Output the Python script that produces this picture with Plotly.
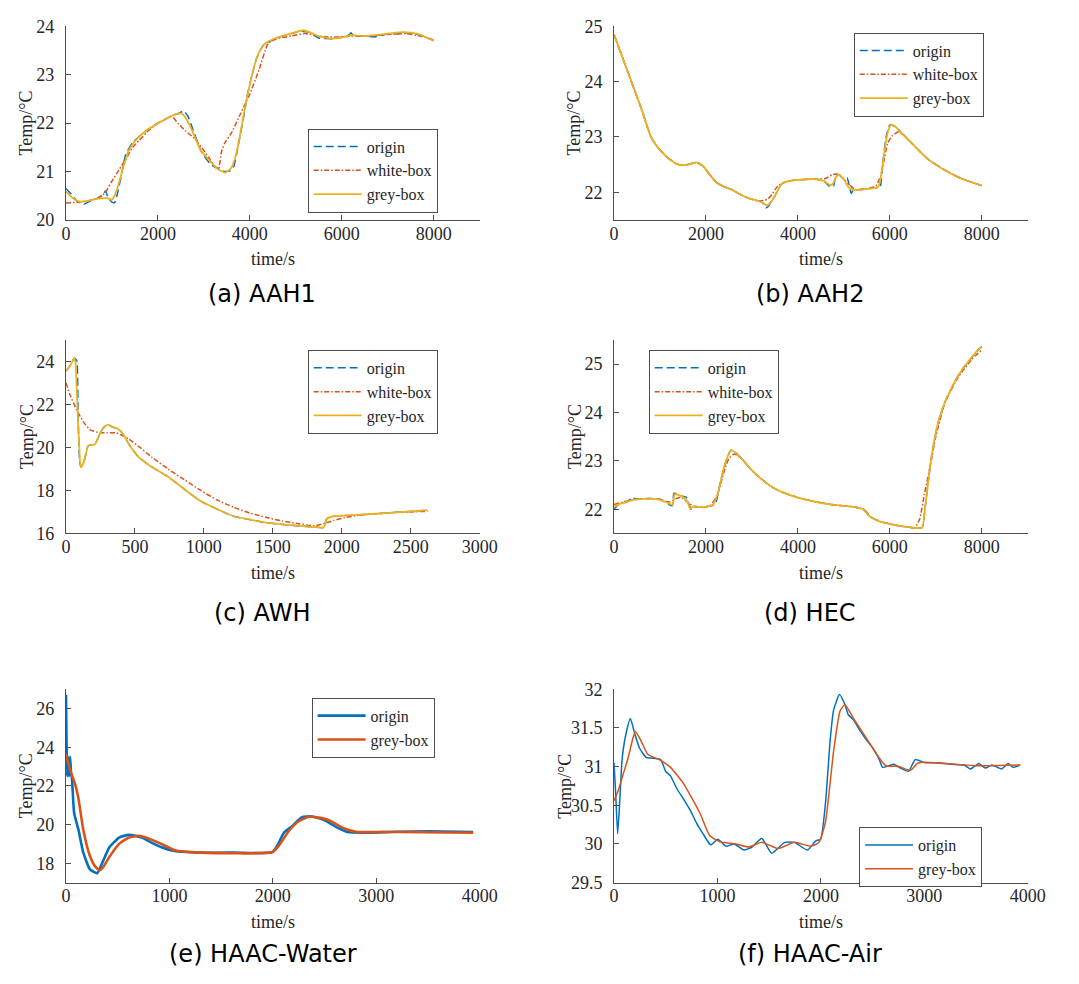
import plotly.graph_objects as go

# ---------------- data: (a) AAH1 ----------------
aah1_grey_t = [0, 150, 300, 500, 700, 900, 1000, 1100, 1250, 1370, 1510, 1750, 2010, 2200, 2370, 2500,
               2600, 2720, 2930, 3150, 3300, 3470, 3600, 3700, 3790, 3880, 3965, 4050, 4140, 4250, 4355,
               4570, 4925, 5170, 5350, 5490, 5780, 6000, 6200, 6500, 6840, 7100, 7340, 7630, 7850, 8000]
aah1_grey = [20.59, 20.45, 20.38, 20.40, 20.44, 20.45, 20.42, 20.60, 21.10, 21.44, 21.64, 21.85, 22.00,
             22.10, 22.18, 22.20, 22.12, 21.90, 21.44, 21.20, 21.05, 20.98, 21.08, 21.35, 21.77, 22.25,
             22.65, 23.00, 23.32, 23.55, 23.66, 23.76, 23.86, 23.92, 23.86, 23.80, 23.75, 23.77, 23.82,
             23.80, 23.83, 23.86, 23.88, 23.85, 23.77, 23.70]
aah1_origin_t = [0, 100, 250, 400, 550, 700, 800, 860, 920, 1000, 1060, 1120, 1200, 1300, 1450, 1750,
                 2000, 2300, 2450, 2560, 2650, 2750, 2950, 3150, 3330, 3450, 3580, 3650, 3720, 3800, 3880,
                 3950, 4050, 4150, 4300, 4450, 4600, 4900, 5100, 5300, 5500, 5650, 5800, 6000, 6150, 6200,
                 6260, 6500, 6700, 6900, 7050, 7200, 7300, 7500, 7700, 8000]
aah1_origin = [20.65, 20.55, 20.38, 20.33, 20.40, 20.45, 20.52, 20.60, 20.45, 20.37, 20.36, 20.55, 20.90,
               21.35, 21.60, 21.85, 22.00, 22.15, 22.20, 22.25, 22.15, 21.90, 21.40, 21.15, 21.05, 21.00,
               21.02, 21.10, 21.40, 21.80, 22.20, 22.60, 23.00, 23.35, 23.62, 23.70, 23.77, 23.85, 23.90,
               23.87, 23.76, 23.75, 23.74, 23.78, 23.82, 23.87, 23.80, 23.80, 23.78, 23.82, 23.86, 23.84,
               23.87, 23.86, 23.82, 23.71]
aah1_white_t = [0, 300, 600, 750, 850, 1000, 1150, 1300, 1450, 1600, 1800, 2000, 2150, 2300, 2450, 2600,
                2800, 2950, 3100, 3250, 3320, 3380, 3450, 3600, 3800, 4000, 4200, 4400, 4600, 4900, 5200,
                5500, 5700, 6000, 6200, 6600, 7000, 7400, 7700, 8000]
aah1_white = [20.35, 20.37, 20.42, 20.48, 20.56, 20.80, 21.03, 21.25, 21.50, 21.65, 21.85, 22.00, 22.07,
              22.14, 21.98, 21.84, 21.68, 21.50, 21.30, 21.10, 21.05, 21.40, 21.58, 21.80, 22.20, 22.60,
              23.10, 23.65, 23.75, 23.80, 23.85, 23.80, 23.78, 23.78, 23.80, 23.80, 23.83, 23.85, 23.80,
              23.72]

# ---------------- data: (b) AAH2 ----------------
aah2_grey_t = [0, 200, 400, 600, 803, 945, 1158, 1371, 1513, 1650, 1798, 1940, 2080, 2224, 2400, 2580,
               2750, 2934, 3220, 3325, 3420, 3503, 3645, 3800, 3929, 4355, 4570, 4700, 4760, 4820, 4890,
               4995, 5100, 5208, 5490, 5740, 5800, 5848, 5920, 5980, 6025, 6131, 6300, 6487, 6700, 6842,
               7197, 7553, 8000]
aah2_grey = [24.85, 24.40, 23.95, 23.50, 23.00, 22.82, 22.63, 22.51, 22.49, 22.51, 22.54, 22.47, 22.32,
             22.18, 22.10, 22.04, 21.96, 21.89, 21.82, 21.76, 21.83, 21.94, 22.15, 22.20, 22.22, 22.24,
             22.20, 22.13, 22.15, 22.26, 22.32, 22.24, 22.09, 22.04, 22.06, 22.09, 22.25, 22.53, 22.94,
             23.15, 23.22, 23.18, 23.03, 22.88, 22.70, 22.59, 22.40, 22.25, 22.12]
aah2_origin_t = [0, 200, 400, 600, 803, 945, 1158, 1371, 1513, 1650, 1798, 1940, 2080, 2224, 2400, 2580,
                 2750, 2934, 3220, 3300, 3350, 3420, 3503, 3645, 3800, 3929, 4355, 4570, 4700, 4780, 4820,
                 4890, 4995, 5070, 5160, 5200, 5490, 5740, 5790, 5850, 5920, 6000, 6131, 6300, 6487, 6700,
                 6842, 7197, 7553, 8000]
aah2_origin = [24.85, 24.40, 23.95, 23.50, 23.00, 22.82, 22.63, 22.51, 22.49, 22.51, 22.54, 22.47, 22.32,
               22.18, 22.10, 22.04, 21.96, 21.89, 21.82, 21.72, 21.74, 21.83, 21.94, 22.15, 22.20, 22.22,
               22.24, 22.20, 22.10, 22.12, 22.30, 22.32, 22.24, 22.26, 21.98, 22.03, 22.06, 22.09, 22.10,
               22.55, 23.00, 23.22, 23.18, 23.03, 22.88, 22.70, 22.59, 22.40, 22.25, 22.12]
aah2_white_t = [0, 200, 400, 600, 803, 945, 1158, 1371, 1513, 1650, 1798, 1940, 2080, 2224, 2400, 2580,
                2750, 2934, 3100, 3250, 3350, 3450, 3550, 3700, 3929, 4355, 4600, 4750, 4850, 4950, 5100,
                5250, 5500, 5700, 5800, 5880, 5950, 6050, 6200, 6300, 6487, 6700, 6842, 7197, 7553, 8000]
aah2_white = [24.85, 24.40, 23.95, 23.50, 23.00, 22.82, 22.63, 22.51, 22.49, 22.51, 22.54, 22.47, 22.32,
              22.18, 22.10, 22.04, 21.96, 21.89, 21.85, 21.85, 21.88, 21.98, 22.10, 22.18, 22.22, 22.24,
              22.25, 22.32, 22.33, 22.28, 22.15, 22.05, 22.06, 22.12, 22.30, 22.60, 22.88, 23.02, 23.10,
              23.04, 22.88, 22.70, 22.59, 22.40, 22.25, 22.12]

# ---------------- data: (c) AWH ----------------
awh_grey_t = [0, 31, 54, 62, 70, 78, 90, 97, 106, 125, 145, 161, 184, 208, 230, 244, 270, 303, 335, 362,
              397, 430, 457, 528, 620, 740, 860, 977, 1100, 1214, 1330, 1450, 1570, 1687, 1800, 1864,
              1875, 1888, 1910, 1947, 2050, 2160, 2280, 2397, 2500, 2621]
awh_grey = [23.55, 23.80, 24.10, 24.14, 23.90, 22.70, 20.80, 20.00, 19.08, 19.24, 19.70, 20.08, 20.12,
            20.14, 20.40, 20.60, 20.90, 21.06, 20.95, 20.90, 20.76, 20.45, 20.14, 19.55, 19.10, 18.64,
            18.05, 17.50, 17.12, 16.80, 16.65, 16.50, 16.42, 16.35, 16.30, 16.27, 16.35, 16.65, 16.75,
            16.80, 16.84, 16.88, 16.93, 16.98, 17.02, 17.08]
awh_origin_t = [0, 31, 54, 62, 72, 80, 88, 100, 110, 125, 145, 161, 184, 208, 230, 244, 270, 303, 335,
                362, 397, 430, 457, 528, 620, 740, 860, 977, 1100, 1214, 1330, 1450, 1570, 1687, 1800,
                1864, 1875, 1888, 1910, 1947, 2050, 2160, 2280, 2397, 2500, 2621]
awh_origin = [23.55, 23.80, 24.10, 24.14, 24.10, 24.00, 21.50, 19.30, 19.10, 19.24, 19.70, 20.08, 20.12,
              20.14, 20.40, 20.60, 20.90, 21.06, 20.95, 20.90, 20.76, 20.45, 20.14, 19.55, 19.10, 18.64,
              18.05, 17.50, 17.12, 16.80, 16.65, 16.50, 16.42, 16.35, 16.30, 16.27, 16.35, 16.65, 16.75,
              16.80, 16.84, 16.88, 16.93, 16.98, 17.02, 17.08]
awh_white_t = [0, 31, 78, 125, 173, 244, 300, 362, 410, 457, 540, 622, 740, 859, 977, 1095, 1214, 1332,
               1450, 1568, 1690, 1805, 1875, 1940, 2018, 2100, 2160, 2280, 2397, 2500, 2621]
awh_white = [23.00, 22.42, 21.74, 21.20, 20.83, 20.68, 20.68, 20.68, 20.55, 20.38, 19.98, 19.55, 19.00,
             18.50, 18.00, 17.56, 17.22, 16.95, 16.75, 16.58, 16.45, 16.35, 16.47, 16.60, 16.73, 16.82,
             16.88, 16.93, 16.98, 17.00, 17.03]

# ---------------- data: (d) HEC ----------------
hec_grey_t = [0, 150, 305, 448, 803, 1016, 1150, 1265, 1300, 1314, 1442, 1570, 1620, 1655, 1726, 1940,
              2153, 2230, 2295, 2360, 2437, 2544, 2650, 2800, 2934, 3100, 3290, 3450, 3645, 4000, 4355,
              4710, 5000, 5208, 5421, 5563, 5776, 6131, 6487, 6700, 6771, 6840, 6913, 7055, 7197, 7340,
              7481, 7623, 7766, 7900, 8000]
hec_grey = [22.05, 22.12, 22.16, 22.20, 22.22, 22.19, 22.14, 22.09, 22.20, 22.31, 22.28, 22.19, 22.10,
            22.00, 22.06, 22.04, 22.09, 22.25, 22.46, 22.75, 23.00, 23.22, 23.17, 23.02, 22.87, 22.71,
            22.56, 22.45, 22.36, 22.24, 22.16, 22.10, 22.07, 22.05, 22.00, 21.85, 21.75, 21.67, 21.62,
            21.62, 22.06, 22.60, 23.13, 23.81, 24.21, 24.50, 24.75, 24.95, 25.12, 25.27, 25.36]
hec_origin_t = [0, 100, 300, 400, 450, 803, 1016, 1265, 1300, 1330, 1450, 1570, 1610, 1680, 1726, 1940,
                2150, 2210, 2300, 2437, 2544, 2650, 2800, 2934, 3100, 3290, 3450, 3645, 4000, 4355, 4710,
                5000, 5208, 5400, 5450, 5500, 5563, 5776, 6131, 6487, 6700, 6771, 6840, 6913, 7055, 7197,
                7340, 7481, 7623, 7766, 7900, 8000]
hec_origin = [22.00, 22.10, 22.16, 22.25, 22.22, 22.22, 22.20, 22.07, 22.33, 22.33, 22.28, 22.25, 22.15,
              22.00, 22.06, 22.04, 22.08, 22.12, 22.50, 23.00, 23.22, 23.17, 23.02, 22.87, 22.71, 22.56,
              22.45, 22.36, 22.24, 22.16, 22.10, 22.07, 22.05, 22.02, 21.98, 21.94, 21.85, 21.75, 21.67,
              21.62, 21.62, 22.06, 22.60, 23.13, 23.81, 24.21, 24.50, 24.75, 24.95, 25.12, 25.27, 25.36]
hec_white_t = [0, 200, 450, 800, 1000, 1200, 1350, 1450, 1600, 1750, 2000, 2100, 2250, 2400, 2500, 2620,
               2800, 2934, 3100, 3290, 3450, 3645, 4000, 4355, 4710, 5000, 5208, 5421, 5563, 5776, 6131,
               6487, 6550, 6650, 6750, 6900, 7000, 7200, 7481, 7766, 8000]
hec_white = [22.10, 22.15, 22.20, 22.22, 22.20, 22.15, 22.22, 22.25, 22.15, 22.05, 22.05, 22.08, 22.30,
             22.80, 23.05, 23.14, 23.02, 22.87, 22.71, 22.56, 22.45, 22.36, 22.24, 22.16, 22.10, 22.07,
             22.05, 22.00, 21.85, 21.75, 21.67, 21.62, 21.62, 21.80, 22.30, 23.00, 23.50, 24.20, 24.72,
             25.08, 25.30]

# ---------------- data: (e) HAAC-Water ----------------
water_origin_t = [0, 5, 12, 20, 30, 40, 50, 57, 79, 120, 167, 230, 278, 303, 356, 420, 514, 609, 735, 830,
                  924, 1050, 1303, 1618, 1997, 2044, 2107, 2186, 2281, 2375, 2502, 2628, 2722, 2880, 3196,
                  3512, 3937]
water_origin = [26.71, 24.50, 22.50, 23.50, 22.50, 23.50, 22.60, 22.44, 20.60, 19.75, 18.56, 17.70, 17.53,
                17.48, 18.08, 18.83, 19.33, 19.47, 19.33, 19.05, 18.83, 18.63, 18.55, 18.55, 18.58, 18.92,
                19.58, 19.92, 20.38, 20.42, 20.22, 19.83, 19.62, 19.58, 19.63, 19.65, 19.62]
water_grey_t = [0, 41, 88, 120, 167, 230, 280, 325, 360, 420, 514, 609, 703, 798, 956, 1050, 1303, 1997,
                2060, 2155, 2250, 2360, 2533, 2691, 2817, 3196, 3937]
water_grey = [23.63, 22.80, 22.10, 21.36, 19.75, 18.40, 17.85, 17.64, 17.80, 18.33, 19.00, 19.33, 19.42,
              19.28, 18.92, 18.67, 18.55, 18.58, 18.92, 19.67, 20.17, 20.42, 20.25, 19.80, 19.62, 19.62,
              19.58]

# ---------------- data: (f) HAAC-Air ----------------
air_origin_t = [0, 16, 35, 57, 79, 120, 158, 199, 246, 309, 356, 451, 498, 546, 609, 672, 735, 798, 861,
                924, 940, 1003, 1082, 1161, 1256, 1334, 1429, 1524, 1650, 1744, 1871, 1950, 1997, 2044,
                2091, 2123, 2180, 2233, 2265, 2312, 2375, 2438, 2502, 2565, 2596, 2659, 2707, 2770, 2849,
                2912, 3007, 3133, 3259, 3385, 3448, 3527, 3590, 3653, 3748, 3811, 3858, 3927]
air_origin = [31.05, 30.65, 30.13, 30.60, 31.11, 31.45, 31.62, 31.43, 31.24, 31.12, 31.11, 31.09, 30.94,
              30.88, 30.71, 30.58, 30.44, 30.27, 30.13, 30.00, 29.99, 30.06, 29.97, 30.00, 29.92, 29.96,
              30.07, 29.88, 30.02, 30.02, 29.92, 30.04, 30.06, 30.52, 31.36, 31.73, 31.93, 31.80, 31.67,
              31.61, 31.47, 31.35, 31.24, 31.09, 30.99, 31.01, 31.03, 30.98, 30.94, 31.09, 31.05, 31.05,
              31.03, 31.02, 30.97, 31.04, 30.98, 31.02, 30.97, 31.04, 30.99, 31.02]
air_grey_t = [0, 41, 88, 136, 183, 208, 262, 325, 451, 546, 672, 830, 924, 1019, 1177, 1303, 1429, 1587,
              1744, 1902, 1981, 2044, 2123, 2186, 2233, 2312, 2438, 2565, 2628, 2754, 2865, 2943, 3196,
              3511, 3927]
air_grey = [30.56, 30.69, 30.90, 31.11, 31.37, 31.45, 31.33, 31.16, 31.08, 30.99, 30.78, 30.40, 30.11,
            30.03, 30.00, 29.96, 30.02, 29.94, 30.02, 29.97, 30.02, 30.28, 31.20, 31.72, 31.80, 31.63,
            31.37, 31.11, 31.01, 31.00, 30.95, 31.05, 31.04, 31.01, 31.02]

# ---------------- axis and label text ----------------
captions = ["(a) AAH1", "(b) AAH2", "(c) AWH", "(d) HEC", "(e) HAAC-Water", "(f) HAAC-Air"]
y_title = "Temp/°C"
x_title = "time/s"
names_three = ["origin", "white-box", "grey-box"]
names_two = ["origin", "grey-box"]

BLUE = "#0072BD"
ORANGE = "#D95319"
YELLOW = "#EDB120"
AXIS_GREY = "#4d4d4d"
TEXT_GREY = "#262626"
SERIF = "Liberation Serif, Times New Roman, serif"
W, H = 1079, 984

# panel geometry in pixels: (left, right, top, bottom)
panel_px = [
    (62.3, 485.0, 16.7, 214.3),
    (622.3, 1045.0, 16.7, 214.3),
    (62.3, 485.0, 336.7, 534.3),
    (622.3, 1045.0, 336.7, 534.3),
    (62.3, 485.0, 693.3, 890.7),
    (622.3, 1045.0, 693.3, 890.7),
]
x_ranges = [[0, 9000], [0, 9000], [0, 3000], [0, 9000], [0, 4000], [0, 4000]]
x_ticks = [list(range(0, 8001, 2000)), list(range(0, 8001, 2000)), list(range(0, 3001, 500)),
           list(range(0, 8001, 2000)), list(range(0, 4001, 1000)), list(range(0, 4001, 1000))]
y_ranges = [[20, 24], [21.5, 25], [16, 25], [21.5, 25.5], [17, 27], [29.5, 32]]
y_ticks = [[20, 21, 22, 23, 24], [22, 23, 24, 25], [16, 18, 20, 22, 24], [22, 23, 24, 25],
           [18, 20, 22, 24, 26], [29.5, 30, 30.5, 31, 31.5, 32]]
y_ticktext = [None, None, None, None, None, ["29.5", "30", "30.5", "31", "31.5", "32"]]
# legend box top-left anchors (px)
legend_px = [(309.3, 121.0), (867.3, 23.0), (309.3, 347.0), (657.7, 347.0), (313.3, 702.0), (872.7, 834.0)]
caption_px = [(263, 290), (823, 290), (263, 615), (823, 615), (264, 964), (823, 964)]
ytitle_x_px = [21.7, 581.7, 21.7, 581.7, 21.7, 572.0]

fig = go.Figure()

three_series = [
    (aah1_origin_t, aah1_origin, aah1_white_t, aah1_white, aah1_grey_t, aah1_grey),
    (aah2_origin_t, aah2_origin, aah2_white_t, aah2_white, aah2_grey_t, aah2_grey),
    (awh_origin_t, awh_origin, awh_white_t, awh_white, awh_grey_t, awh_grey),
    (hec_origin_t, hec_origin, hec_white_t, hec_white, hec_grey_t, hec_grey),
]


def ax_suffix(i):
    return "" if i == 0 else str(i + 1)


for i, (ot, ov, wt, wv, gt, gv) in enumerate(three_series):
    sfx = ax_suffix(i)
    leg = "legend" + sfx
    common = dict(xaxis="x" + sfx, yaxis="y" + sfx, mode="lines", legend=leg)
    fig.add_trace(go.Scatter(x=ot, y=ov, name=names_three[0],
                             line=dict(color=BLUE, width=1.5, dash="8px,4px", shape="spline", smoothing=0.5),
                             **common))
    fig.add_trace(go.Scatter(x=wt, y=wv, name=names_three[1],
                             line=dict(color=ORANGE, width=1.5, dash="5px,2px,1.5px,2px", shape="spline",
                                       smoothing=0.5),
                             **common))
    fig.add_trace(go.Scatter(x=gt, y=gv, name=names_three[2],
                             line=dict(color=YELLOW, width=1.8, shape="spline", smoothing=0.5),
                             **common))

two_series = [
    (water_origin_t, water_origin, water_grey_t, water_grey, 2.6),
    (air_origin_t, air_origin, air_grey_t, air_grey, 1.5),
]
for k, (ot, ov, gt, gv, lw) in enumerate(two_series):
    i = 4 + k
    sfx = ax_suffix(i)
    leg = "legend" + sfx
    common = dict(xaxis="x" + sfx, yaxis="y" + sfx, mode="lines", legend=leg)
    fig.add_trace(go.Scatter(x=ot, y=ov, name=names_two[0],
                             line=dict(color=BLUE, width=lw, shape="spline", smoothing=0.5), **common))
    fig.add_trace(go.Scatter(x=gt, y=gv, name=names_two[1],
                             line=dict(color=ORANGE, width=lw, shape="spline", smoothing=0.5), **common))

layout = dict(
    width=W, height=H,
    margin=dict(l=0, r=0, t=0, b=0),
    paper_bgcolor="white", plot_bgcolor="white",
    font=dict(family=SERIF, size=18, color=TEXT_GREY),
    showlegend=True,
)

annotations = []
for i, (l, r, t, b) in enumerate(panel_px):
    sfx = ax_suffix(i)
    layout["xaxis" + sfx] = dict(
        domain=[l / W, r / W], range=x_ranges[i], anchor="y" + sfx,
        tickmode="array", tickvals=x_ticks[i], ticks="inside", ticklen=5, tickcolor=AXIS_GREY,
        showline=True, linecolor=AXIS_GREY, linewidth=1, mirror=False,
        showgrid=False, zeroline=False, ticklabelstandoff=-3,
        tickfont=dict(family=SERIF, size=18, color=TEXT_GREY),
    )
    yax = dict(
        domain=[1 - b / H, 1 - t / H], range=y_ranges[i], anchor="x" + sfx,
        tickmode="array", tickvals=y_ticks[i], ticks="inside", ticklen=5, tickcolor=AXIS_GREY,
        showline=True, linecolor=AXIS_GREY, linewidth=1, mirror=False,
        showgrid=False, zeroline=False, ticklabelstandoff=7,
        tickfont=dict(family=SERIF, size=18, color=TEXT_GREY),
    )
    if y_ticktext[i] is not None:
        yax["ticktext"] = y_ticktext[i]
    layout["yaxis" + sfx] = yax

    lx, ly = legend_px[i]
    layout["legend" + sfx] = dict(
        x=lx / W, y=1 - ly / H, xanchor="left", yanchor="top", xref="paper", yref="paper",
        bgcolor="white", bordercolor=AXIS_GREY, borderwidth=1,
        font=dict(family=SERIF, size=16, color=TEXT_GREY),
        itemwidth=48, tracegroupgap=0,
    )

    cx, cy = caption_px[i]
    annotations.append(dict(text=captions[i], x=cx / W, y=1 - cy / H, xref="paper", yref="paper",
                            xanchor="center", yanchor="middle", showarrow=False,
                            font=dict(family="DejaVu Sans", size=24, color="black")))
    annotations.append(dict(text=x_title, x=(l + r) / 2 / W, y=1 - (b + 40.0) / H, xref="paper",
                            yref="paper", xanchor="center", yanchor="middle", showarrow=False,
                            font=dict(family=SERIF, size=18, color=TEXT_GREY)))
    annotations.append(dict(text=y_title, x=ytitle_x_px[i] / W, y=1 - (t + b) / 2 / H, xref="paper",
                            yref="paper", xanchor="center", yanchor="middle", textangle=-90,
                            showarrow=False, font=dict(family=SERIF, size=18, color=TEXT_GREY)))

layout["annotations"] = annotations
fig.update_layout(**layout)
fig.write_html("out.html")
